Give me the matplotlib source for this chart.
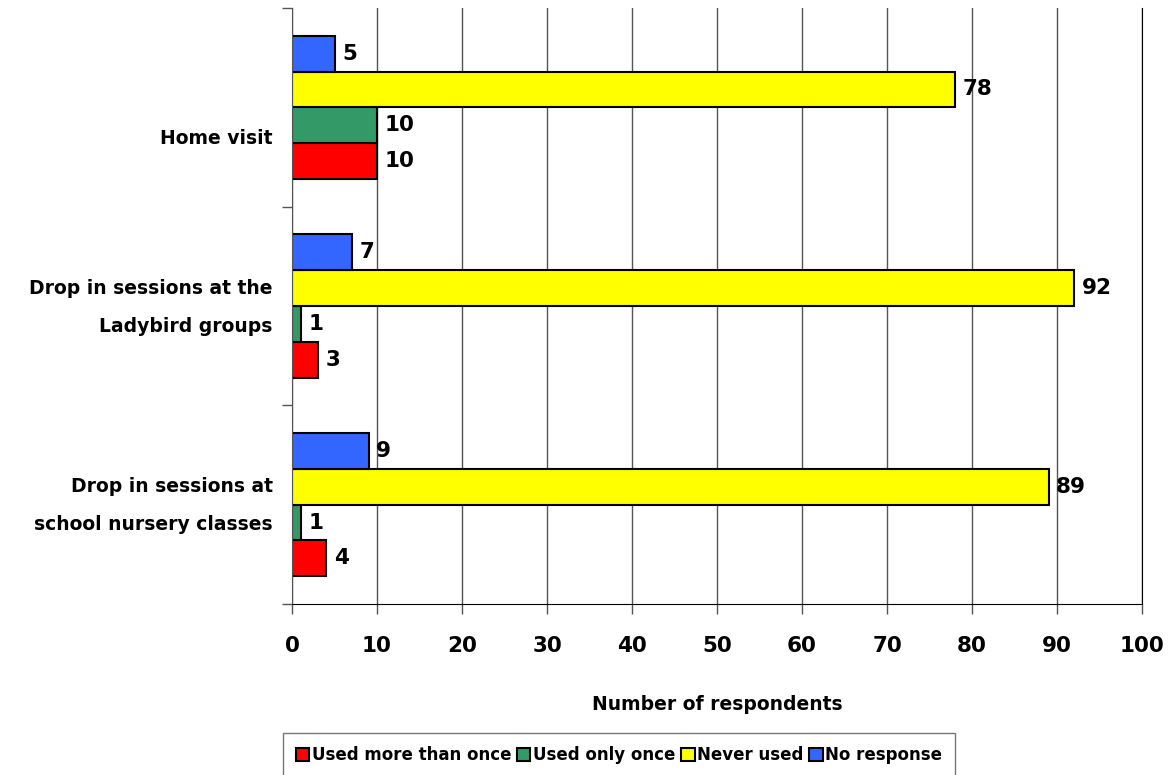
import numpy as np
import matplotlib
matplotlib.use("Agg")
import matplotlib.pyplot as plt
import matplotlib.transforms as mtrans

# ── Data ──────────────────────────────────────────────────────────────────────
categories = ["Home visit", "Drop in sessions at the\nLadybird groups",
              "Drop in sessions at\nschool nursery classes"]
series_names = ["Used more than once", "Used only once", "Never used", "No response"]
used_more = [10, 3, 4]
used_once = [10, 1, 1]
never_used = [78, 92, 89]
no_response = [5, 7, 9]
colors = ["#FF0000", "#339966", "#FFFF00", "#3366FF"]
x_ticks = list(range(0, 101, 10))

plt.rcParams["font.family"] = ["DejaVu Sans"]
plt.rcParams["font.weight"] = "bold"

fig = plt.figure(figsize=(11.74, 7.75), dpi=100)
ax = fig.add_axes([292 / 1174, 1 - 604 / 775, 850 / 1174, 596 / 775])

y = np.arange(len(categories))
h = 0.18
offsets = [1.5 * h, 0.5 * h, -0.5 * h, -1.5 * h]
all_series = [used_more, used_once, never_used, no_response]

ax.set_axisbelow(True)
ax.grid(axis="x", color="#555555", linewidth=1)

for vals, off, col, name in zip(all_series, offsets, colors, series_names):
    bars = ax.barh(y + off, vals, height=h, color=col, edgecolor="black",
                   linewidth=1.5, label=name)
    for b, v in zip(bars, vals):
        ax.text(v + 0.9, b.get_y() + h / 2, str(v), va="center", ha="left",
                fontsize=15.5, fontweight="bold")

ax.set_xlim(0, 100)
ax.set_ylim(2.5, -0.5)
ax.set_xticks(x_ticks)
ax.set_xticklabels([str(t) for t in x_ticks], fontsize=15.5, fontweight="bold")
ax.set_yticks(y)
ax.set_yticklabels(categories, fontsize=13.5, fontweight="bold", linespacing=2.3,
                   ha="right")
ax.set_yticks([-0.5, 0.5, 1.5, 2.5], minor=True)
ax.tick_params(axis="y", which="major", length=0, pad=14)
ax.tick_params(axis="y", which="minor", length=7, width=1, color="#555555")
ax.tick_params(axis="x", length=7, width=1, pad=16, color="#555555")

# nudge category labels vertically (Excel-style placement)
shifts = [-0.29, 0.10, 0.11]
for lab, dy in zip(ax.get_yticklabels(), shifts):
    lab.set_transform(lab.get_transform() +
                      mtrans.ScaledTranslation(0, dy, fig.dpi_scale_trans))

ax.spines["top"].set_visible(False)
ax.spines["right"].set_color("black")
ax.spines["left"].set_color("#555555")
ax.spines["bottom"].set_color("black")

ax.set_xlabel("Number of respondents", fontsize=13.5, fontweight="bold", labelpad=28)

handles, labels = ax.get_legend_handles_labels()
leg = fig.legend(handles, labels, loc="upper center",
                 bbox_to_anchor=(619 / 1174, 1 - 733 / 775),
                 ncol=4, frameon=True, fancybox=False, edgecolor="#555555",
                 fontsize=12, handlelength=0.8, handleheight=0.8, handletextpad=0.15,
                 columnspacing=0.35, borderpad=0.8, borderaxespad=0)
leg.get_frame().set_linewidth(1)

fig.savefig("out.png", dpi=100)
